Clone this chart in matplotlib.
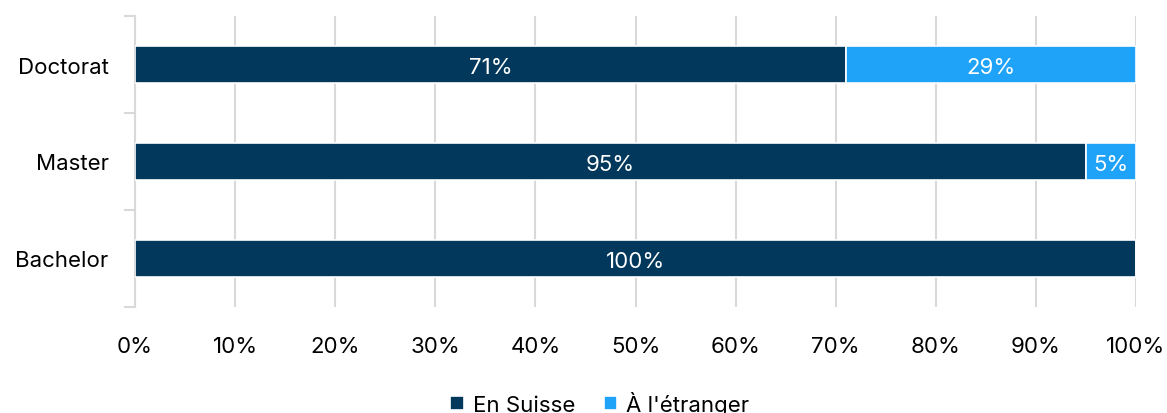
import matplotlib.pyplot as plt
import numpy as np

categories = ["Bachelor", "Master", "Doctorat"]
en_suisse = [100, 95, 71]
etranger = [0, 5, 29]
series_names = ["En Suisse", "À l'étranger"]
colors = ["#02385b", "#1ea3f8"]

plt.rcParams['font.family'] = ['Inter', 'DejaVu Sans']
FS = 16

fig = plt.figure(figsize=(11.67, 4.14), dpi=100)
ax = fig.add_axes([135 / 1167, 1 - 308 / 414, (1136 - 135) / 1167, 291 / 414])

y = np.arange(len(categories))
h = 0.39
b1 = ax.barh(y, en_suisse, height=h, color=colors[0], edgecolor="white", linewidth=1.2,
             label=series_names[0], zorder=3)
b2 = ax.barh(y, etranger, left=en_suisse, height=h, color=colors[1], edgecolor="white",
             linewidth=1.2, label=series_names[1], zorder=3)

for bars, vals, lefts in [(b1, en_suisse, [0] * 3), (b2, etranger, en_suisse)]:
    for rect, v, l in zip(bars, vals, lefts):
        if v > 0:
            ax.text(l + v / 2, rect.get_y() + rect.get_height() / 2 - 0.03, f"{v}%",
                    ha="center", va="center", color="white", fontsize=FS, zorder=4)

ax.set_xlim(0, 100)
ax.set_ylim(-0.5, 2.5)
ax.set_xticks(np.arange(0, 101, 10))
ax.set_xticklabels([f"{t}%" for t in range(0, 101, 10)], fontsize=FS)
ax.set_yticks(y)
ax.set_yticklabels(categories, fontsize=FS)
ax.set_yticks([-0.5, 0.5, 1.5, 2.5], minor=True)

ax.tick_params(axis="x", length=0, pad=21)
ax.tick_params(axis="y", which="major", length=0, pad=19)
ax.tick_params(axis="y", which="minor", length=8, width=1.5, color="#d9d9d9")

ax.grid(axis="x", color="#d9d9d9", linewidth=1.5, zorder=0)
for s in ["top", "right", "bottom"]:
    ax.spines[s].set_visible(False)
ax.spines["left"].set_color("#d9d9d9")
ax.spines["left"].set_linewidth(1.5)

fig.legend(handles=[b1, b2], labels=series_names, loc="lower center", ncol=2,
           bbox_to_anchor=(0.514, -0.052), frameon=False, fontsize=FS,
           handlelength=0.6, handleheight=0.6, handletextpad=0.4, columnspacing=1.3)

fig.savefig("out.png", dpi=100)
